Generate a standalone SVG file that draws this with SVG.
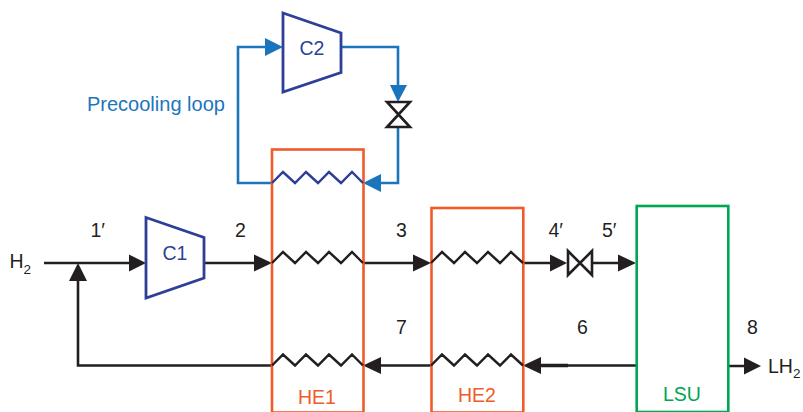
<svg xmlns="http://www.w3.org/2000/svg" width="803" height="412" viewBox="0 0 803 412">
<style>
text{font-family:"Liberation Sans",Arial,sans-serif;font-size:19.500px}
.k{fill:#231f20}.b{fill:#1b75bc}.n{fill:#2e3f98}.r{fill:#f15a29}.g{fill:#00a651}
.sub{font-size:13.500px}
.lk,.lb,.zk,.zn,.comp,.valve,.boxr,.boxg{fill:none}
.lk{stroke:#231f20;stroke-width:2.600}
.lb{stroke:#1b75bc;stroke-width:2.600}
.zk{stroke:#231f20;stroke-width:2.400}
.zn{stroke:#2e3f98;stroke-width:2.400}
.comp{stroke:#2e3f98;stroke-width:2.800}
.valve{stroke:#231f20;stroke-width:2.600}
.boxr{stroke:#f15a29;stroke-width:2.600}
.boxg{stroke:#00a651;stroke-width:2.600}
</style>
<rect width="803" height="412" fill="#fff"/>
<g id="connectors">
<path class="lb" d="M272 183H238V47H270M341 47H398V90M398 127V183H378"/>
<path class="lk" d="M44 263H135M204 263H260M363 263H420M523 263H555M592 263H625M272 365.500H78V275M431 365.500H375M637 365.500H535M728 366H750"/>
<path d="M535 365.500H568" stroke="#231f20" stroke-width="3.600" fill="none"/>
<path class="b" d="M283 47L265 38V56ZM398 102L390 85H407ZM363 183L381 174V192Z"/>
<path class="k" d="M146 263L129 254.500V271.500ZM78 263L69 281H87ZM272 263L254 254.500V271.500ZM431 263L413 254.500V271.500ZM567 263L550 254.500V271.500ZM636 263L618 254.500V271.500ZM363 365.500L381 357V374ZM523 365.500L541 357V374ZM761 366L744 357.500V374.500Z"/>
</g>
<g id="HE1">
<rect class="boxr" x="272" y="149.500" width="91.500" height="263"/>
<path class="zn" d="M272 183L283 172L295 183L306 172L318 183L329 172L341 183L352 172L363 183"/>
<path class="zk" d="M272 263L283 252L295 263L306 252L318 263L329 252L341 263L352 252L363 263"/>
<path class="zk" d="M272 365.500L283 354.500L295 365.500L306 354.500L318 365.500L329 354.500L341 365.500L352 354.500L363 365.500"/>
<text class="r" x="298" y="404">HE1</text>
</g>
<g id="HE2">
<rect class="boxr" x="431.500" y="208" width="91.800" height="204.500"/>
<path class="zk" d="M431 263L442 252L454 263L465 252L477 263L488 252L500 263L511 252L523 263"/>
<path class="zk" d="M431 365.500L442 354.500L454 365.500L465 354.500L477 365.500L488 354.500L500 365.500L511 354.500L523 365.500"/>
<text class="r" x="458" y="402">HE2</text>
</g>
<g id="LSU">
<rect class="boxg" x="636.700" y="206" width="91.600" height="206"/>
<text class="g" x="663" y="401">LSU</text>
</g>
<g id="C1">
<path class="comp" d="M146 217.500L204 237.500V278L146 298Z"/>
<text class="n" x="162.500" y="260">C1</text>
</g>
<g id="C2">
<path class="comp" d="M283 13L341 33V72.500L283 92Z"/>
<text class="n" x="299.500" y="55">C2</text>
</g>
<g id="V1">
<path class="valve" d="M568 251L592 275V251L568 275Z"/>
</g>
<g id="V2">
<path class="valve" d="M387 102H410L387 127H410Z"/>
</g>
<g id="labels">
<text class="b" x="87" y="111" style="font-size:20px">Precooling loop</text>
<text class="k" x="9.500" y="268">H<tspan class="sub" dy="6">2</tspan></text>
<text class="k" x="768" y="373">LH<tspan class="sub" dy="5">2</tspan></text>
<text class="k" x="90.500" y="237">1′</text>
<text class="k" x="235" y="237">2</text>
<text class="k" x="396" y="237">3</text>
<text class="k" x="548.500" y="237">4′</text>
<text class="k" x="602" y="237">5′</text>
<text class="k" x="396" y="334">7</text>
<text class="k" x="577" y="334">6</text>
<text class="k" x="747" y="334">8</text>
</g>
</svg>
